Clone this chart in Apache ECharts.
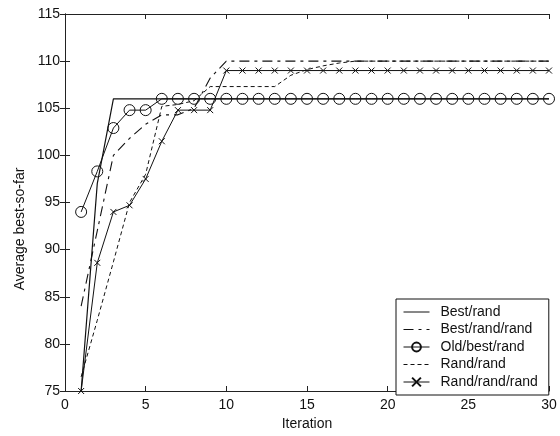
<!DOCTYPE html>
<html>
<head>
<meta charset="utf-8">
<script src="https://cdn.jsdelivr.net/npm/echarts@6/dist/echarts.min.js"></script>
<style>html,body{margin:0;padding:0;background:#fff}#c{width:560px;height:436px}</style>
</head>
<body>
<div id="c"></div>
<script>
var iterations = [1,2,3,4,5,6,7,8,9,10,11,12,13,14,15,16,17,18,19,20,21,22,23,24,25,26,27,28,29,30];
var bestRand = [75,97,106,106,106,106,106,106,106,106,106,106,106,106,106,106,106,106,106,106,106,106,106,106,106,106,106,106,106,106];
var bestRandRand = [84,92,100,101.8,103.3,104.3,104.3,105,108.2,110,110,110,110,110,110,110,110,110,110,110,110,110,110,110,110,110,110,110,110,110];
var oldBestRand = [94,98.3,102.9,104.8,104.8,106,106,106,106,106,106,106,106,106,106,106,106,106,106,106,106,106,106,106,106,106,106,106,106,106];
var randRand = [76.5,82.5,88.7,95,98,105.2,105.4,105.8,107.3,107.3,107.3,107.3,107.3,108.5,109.1,109.5,109.8,110,110,110,110,110,110,110,110,110,110,110,110,110];
var randRandRand = [75,88.6,94,94.7,97.5,101.5,104.8,104.8,104.8,109,109,109,109,109,109,109,109,109,109,109,109,109,109,109,109,109,109,109,109,109];
var seriesNames = ['Best/rand','Best/rand/rand','Old/best/rand','Rand/rand','Rand/rand/rand'];
var xTicks = {min:0, max:30, interval:5};
var yTicks = {min:75, max:115, interval:5};
var xLabel = 'Iteration';
var yLabel = 'Average best-so-far';

function pairs(vals){ return iterations.map(function(x,i){ return [x, vals[i]]; }); }
var FONT = 'Arial, "Liberation Sans", sans-serif';
var INK = '#111';
var chart = echarts.init(document.getElementById('c'), null, {renderer:'canvas'});
var axisCommon = {
  axisLine:{show:true, lineStyle:{color:'#222', width:1}},
  axisTick:{show:true, inside:true, length:5, lineStyle:{color:'#222'}},
  splitLine:{show:false}
};
function xa(pos, labels){
  return Object.assign({type:'value', position:pos, min:xTicks.min, max:xTicks.max, interval:xTicks.interval,
    axisLabel:{show:labels, color:INK, fontSize:14, fontFamily:FONT, margin:7},
    name: labels ? xLabel : '', nameLocation:'middle', nameGap:26,
    nameTextStyle:{color:INK, fontSize:14, fontFamily:FONT}}, axisCommon);
}
function ya(pos, labels){
  return Object.assign({type:'value', position:pos, min:yTicks.min, max:yTicks.max, interval:yTicks.interval,
    axisLabel:{show:labels, color:INK, fontSize:14, fontFamily:FONT, margin:5}}, axisCommon);
}
var crossPath = 'path://M0,0L10,10M10,0L0,10';
var base = {type:'line', xAxisIndex:0, yAxisIndex:0, animation:false, silent:true};
var noMarker = {color:'rgba(0,0,0,0)', borderWidth:0, borderColor:'rgba(0,0,0,0)'};
chart.setOption({
  animation:false,
  grid:{left:65, right:11, top:14, bottom:42, containLabel:false},
  xAxis:[xa('bottom', true), xa('top', false)],
  yAxis:[ya('left', true), ya('right', false)],
  graphic:[{type:'text', x:20, y:229, rotation:Math.PI/2,
    style:{text:yLabel, fill:INK, font:'14px ' + FONT, textAlign:'center', textVerticalAlign:'middle'}}],
  legend:{
    data:[
      {name:seriesNames[0], itemStyle:noMarker},
      {name:seriesNames[1], itemStyle:noMarker},
      {name:seriesNames[2]},
      {name:seriesNames[3], itemStyle:noMarker},
      {name:seriesNames[4]}
    ],
    orient:'vertical', left:396, top:299,
    backgroundColor:'#fff', borderColor:'#111', borderWidth:1, borderRadius:0,
    padding:[6,11,6,7], itemWidth:26, itemHeight:11, itemGap:3.5,
    lineStyle:{width:1},
    textStyle:{color:INK, fontSize:14, fontFamily:FONT, padding:[0,0,0,6]}
  },
  series:[
    Object.assign({}, base, {name:seriesNames[0], data:pairs(bestRand), symbol:'none',
      lineStyle:{color:INK, width:1.2, type:'solid'}, itemStyle:{color:INK}}),
    Object.assign({}, base, {name:seriesNames[1], data:pairs(bestRandRand), symbol:'none',
      lineStyle:{color:INK, width:1.1, type:[10,5,3,5]}, itemStyle:{color:INK}}),
    Object.assign({}, base, {name:seriesNames[2], data:pairs(oldBestRand), symbol:'circle', symbolSize:11,
      lineStyle:{color:INK, width:1, type:'solid'},
      itemStyle:{color:'rgba(255,255,255,0)', borderColor:INK, borderWidth:1}}),
    Object.assign({}, base, {name:seriesNames[3], data:pairs(randRand), symbol:'none',
      lineStyle:{color:INK, width:1, type:[4,3]}, itemStyle:{color:INK}}),
    Object.assign({}, base, {name:seriesNames[4], data:pairs(randRandRand), symbol:crossPath, symbolSize:6,
      lineStyle:{color:INK, width:1, type:'solid'},
      itemStyle:{color:'rgba(255,255,255,0)', borderColor:INK, borderWidth:1}})
  ]
});
</script>
</body>
</html>
